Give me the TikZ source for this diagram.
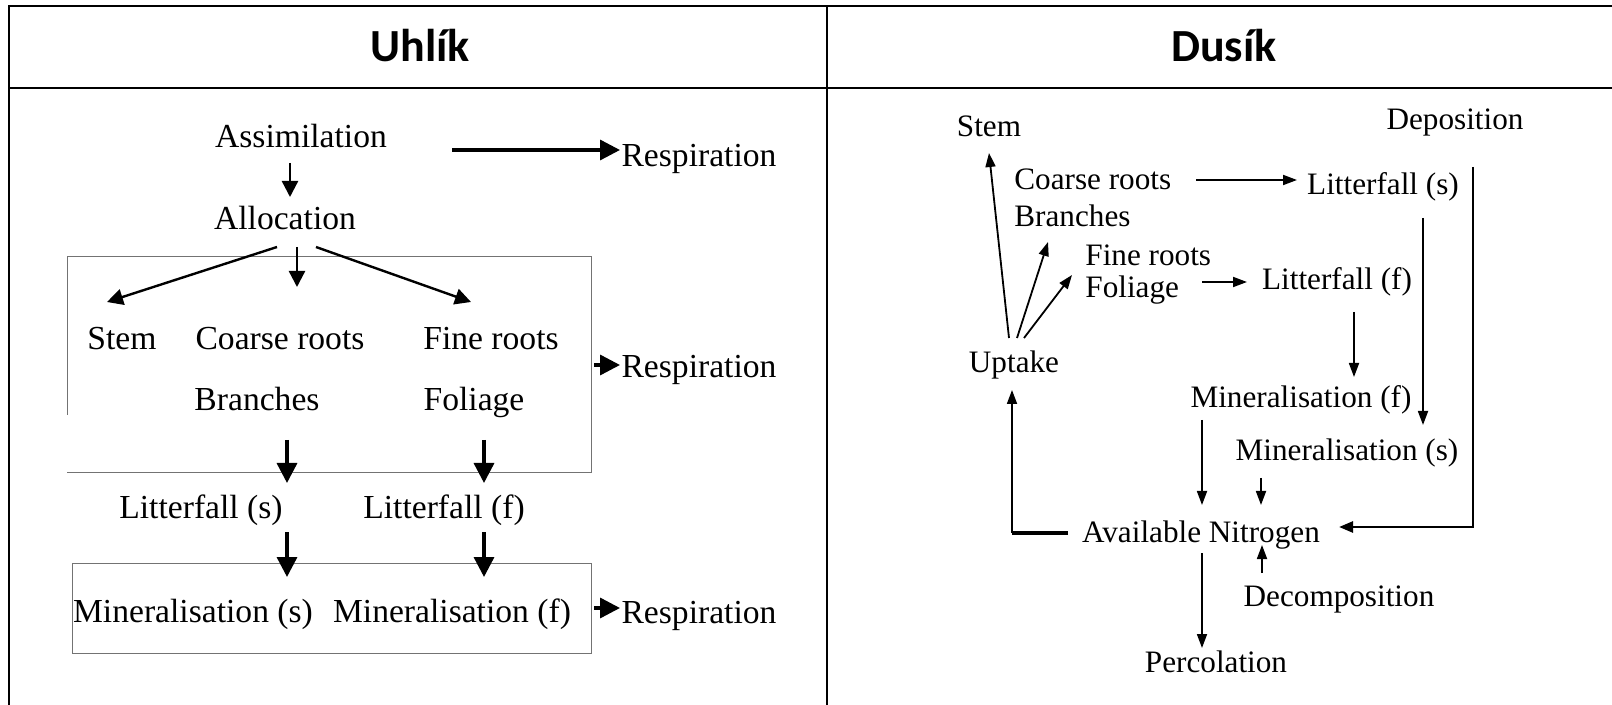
\documentclass[tikz,border=0pt]{standalone}
\usepackage{fontspec}
\setmainfont{Liberation Serif}
\newfontfamily\headfont{Carlito}
\usetikzlibrary{arrows.meta}

\begin{document}
\begin{tikzpicture}[x=0.5pt,y=-0.5pt,
  lbl/.style={inner sep=0pt, anchor=base, font=\fontsize{16.8}{20}\selectfont},
  rlbl/.style={inner sep=0pt, anchor=base, font=\fontsize{15.6}{18}\selectfont},
  rlblw/.style={rlbl, anchor=base west},
  head/.style={inner sep=0pt, anchor=base, font=\headfont\bfseries\fontsize{23}{28}\selectfont},
  frame/.style={line width=1.3pt},
  box/.style={draw=black!55, line width=0.5pt},
  bigarr/.style={line width=1.7pt, -{Triangle[length=10pt,width=10pt]}},
  midarr/.style={line width=1.2pt, -{Triangle[length=8pt,width=8pt]}},
  thinarr/.style={line width=0.9pt, -{Triangle[length=7pt,width=5pt]}},
  heavyarr/.style={line width=1.3pt, -{Triangle[length=7pt,width=5.5pt]}},
]
\useasboundingbox (0,0) rectangle (1612,705);

% table rules
\draw[frame] (9,705) -- (9,6) -- (1612,6);
\draw[frame] (9,88) -- (1612,88);
\draw[frame] (827,6) -- (827,705);

% column headings
\node[head] (uhlik) at (420,62) {Uhlík};
\node[head] (dusik) at (1224,62) {Dusík};

% ---------- carbon ----------
\node[lbl] (assim) at (301,148) {Assimilation};
\node[lbl] (resp1) at (699,167) {Respiration};
\node[lbl] (alloc) at (285,230) {Allocation};
\node[lbl] (stem) at (122,350) {Stem};
\node[lbl] (coarse) at (280,350) {Coarse roots};
\node[lbl] (fine) at (491,350) {Fine roots};
\node[lbl] (resp2) at (699,378) {Respiration};
\node[lbl] (branch) at (257,411) {Branches};
\node[lbl] (foli) at (474,411) {Foliage};
\node[lbl] (litS) at (201,518) {Litterfall (s)};
\node[lbl] (litF) at (444,518) {Litterfall (f)};
\node[lbl] (minS) at (193,622) {Mineralisation (s)};
\node[lbl] (minF) at (452,622) {Mineralisation (f)};
\node[lbl] (resp3) at (699,623) {Respiration};

% biomass and soil compartments
\draw[box] (67,415) -- (67,257) -- (591,257) -- (591,473) -- (67,473);
\draw[box] (72,563) rectangle (591,653);

% carbon flows
\coordinate (r1s) at (452,150);  \coordinate (r1e) at (620,150);
\draw[bigarr] (r1s) -- (r1e);
\coordinate (a1) at (290,163);   \coordinate (a2) at (290,197);
\draw[midarr] (a1) -- (a2);
\coordinate (al1) at (277,247);  \coordinate (st) at (107,302);
\coordinate (al2) at (297,247);  \coordinate (cr) at (297,287);
\coordinate (al3) at (316,247);  \coordinate (fr) at (471,302);
\draw[midarr] (al1) -- (st);
\draw[midarr] (al2) -- (cr);
\draw[midarr] (al3) -- (fr);
\coordinate (r2s) at (594,365);  \coordinate (r2e) at (620,365);
\draw[bigarr] (r2s) -- (r2e);
\coordinate (b1) at (287,440);   \coordinate (b2) at (287,483);
\coordinate (f1) at (484,440);   \coordinate (f2) at (484,483);
\draw[bigarr] (b1) -- (b2);
\draw[bigarr] (f1) -- (f2);
\coordinate (ls1) at (287,532);  \coordinate (ls2) at (287,577);
\coordinate (lf1) at (484,532);  \coordinate (lf2) at (484,577);
\draw[bigarr] (ls1) -- (ls2);
\draw[bigarr] (lf1) -- (lf2);
\coordinate (r3s) at (594,608);  \coordinate (r3e) at (620,608);
\draw[bigarr] (r3s) -- (r3e);

% ---------- nitrogen ----------
\node[rlbl] (stemN) at (989,137) {Stem};
\node[rlbl] (depo) at (1455,130) {Deposition};
\node[rlblw] (coarseN) at (1014,190) {Coarse roots};
\node[rlblw] (branchN) at (1014,227) {Branches};
\node[rlbl] (litSN) at (1383,195) {Litterfall (s)};
\node[rlblw] (fineN) at (1085,266) {Fine roots};
\node[rlblw] (foliN) at (1085,298) {Foliage};
\node[rlbl] (litFN) at (1337,290) {Litterfall (f)};
\node[rlbl] (uptake) at (1014,373) {Uptake};
\node[rlbl] (minFN) at (1301,408) {Mineralisation (f)};
\node[rlbl] (minSN) at (1347,461) {Mineralisation (s)};
\node[rlbl] (avail) at (1201,543) {Available Nitrogen};
\node[rlbl] (decomp) at (1339,606) {Decomposition};
\node[rlbl] (perc) at (1216,672) {Percolation};

% nitrogen flows
\coordinate (u1) at (1009,338);  \coordinate (sN) at (989,153);
\coordinate (u2) at (1017,338);  \coordinate (cN) at (1048,242);
\coordinate (u3) at (1024,338);  \coordinate (fN) at (1072,275);
\draw[thinarr] (u1) -- (sN);
\draw[thinarr] (u2) -- (cN);
\draw[thinarr] (u3) -- (fN);
\coordinate (c1) at (1196,180);  \coordinate (c2) at (1297,180);
\draw[thinarr] (c1) -- (c2);
\coordinate (fo1) at (1202,282); \coordinate (fo2) at (1247,282);
\draw[thinarr] (fo1) -- (fo2);
\coordinate (lfn1) at (1354,312); \coordinate (lfn2) at (1354,377);
\draw[thinarr] (lfn1) -- (lfn2);
\coordinate (lsn1) at (1423,218); \coordinate (lsn2) at (1423,425);
\draw[thinarr] (lsn1) -- (lsn2);
\coordinate (d1) at (1473,167);  \coordinate (d2) at (1473,527);
\coordinate (d3) at (1339,527);
\draw[heavyarr] (d1) -- (d2) -- (d3);
\coordinate (mf1) at (1202,420); \coordinate (mf2) at (1202,505);
\draw[thinarr] (mf1) -- (mf2);
\coordinate (ms1) at (1261,478); \coordinate (ms2) at (1261,505);
\draw[thinarr] (ms1) -- (ms2);
\coordinate (av1) at (1068,533); \coordinate (av2) at (1012,533);
\coordinate (up1) at (1012,390);
\draw[line width=1.6pt] (av1) -- (av2);
\draw[thinarr] (av2) -- (up1);
\coordinate (dc1) at (1262,573); \coordinate (dc2) at (1262,545);
\draw[thinarr] (dc1) -- (dc2);
\coordinate (pc1) at (1202,553); \coordinate (pc2) at (1202,648);
\draw[thinarr] (pc1) -- (pc2);
\end{tikzpicture}
\end{document}
